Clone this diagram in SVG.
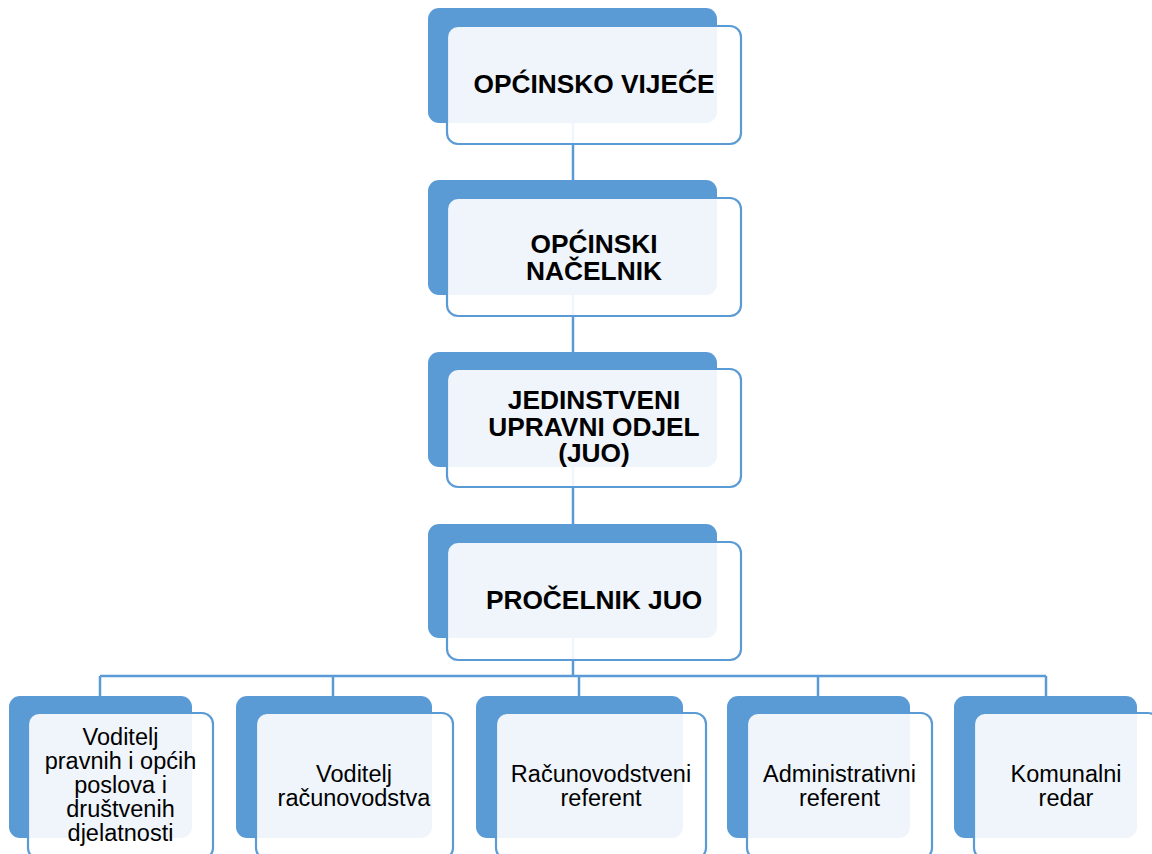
<svg xmlns="http://www.w3.org/2000/svg" width="1152" height="854" viewBox="0 0 1152 854">
<style>
.back{fill:#5B9BD5}
.front{fill:#FFFFFF;fill-opacity:0.9;stroke:#5B9BD5;stroke-width:2.2}
.conn{fill:none;stroke:#5B9BD5;stroke-width:2.5}
.tb{font-family:"Liberation Sans",Arial,sans-serif;font-weight:bold;font-size:26.3px;fill:#000;text-anchor:middle}
.tr{font-family:"Liberation Sans",Arial,sans-serif;font-size:23.5px;fill:#000;text-anchor:middle}
</style>
<rect width="1152" height="854" fill="#FFFFFF"/>
<g id="connectors">
<path class="conn" d="M573 123V180M573 295V352M573 467V524M573 638V676M100 676H1046M100 676V696M333 676V696M579 676V696M818 676V696M1046 676V696"/>
</g>
<g id="node-vijece">
<rect class="back" x="428" y="8" width="289" height="115" rx="11"/>
<rect class="front" x="447" y="26" width="294" height="118" rx="11"/>
<text class="tb" x="594" y="93">OPĆINSKO VIJEĆE</text>
</g>
<g id="node-nacelnik">
<rect class="back" x="428" y="180" width="289" height="115" rx="11"/>
<rect class="front" x="447" y="198" width="294" height="118" rx="11"/>
<text class="tb" x="594" y="253">OPĆINSKI</text>
<text class="tb" x="594" y="280">NAČELNIK</text>
</g>
<g id="node-juo">
<rect class="back" x="428" y="352" width="289" height="115" rx="11"/>
<rect class="front" x="447" y="369" width="294" height="118" rx="11"/>
<text class="tb" x="594" y="409">JEDINSTVENI</text>
<text class="tb" x="594" y="436">UPRAVNI ODJEL</text>
<text class="tb" x="594" y="462">(JUO)</text>
</g>
<g id="node-procelnik">
<rect class="back" x="428" y="524" width="289" height="114" rx="11"/>
<rect class="front" x="447" y="542" width="294" height="118" rx="11"/>
<text class="tb" x="594" y="609">PROČELNIK JUO</text>
</g>
<g id="node-voditelj-pravnih">
<rect class="back" x="9" y="696" width="183" height="142" rx="11"/>
<rect class="front" x="28" y="713" width="185" height="146" rx="11"/>
<text class="tr" x="120.5" y="745">Voditelj</text>
<text class="tr" x="120.5" y="769">pravnih i općih</text>
<text class="tr" x="120.5" y="793">poslova i</text>
<text class="tr" x="120.5" y="817">društvenih</text>
<text class="tr" x="120.5" y="841">djelatnosti</text>
</g>
<g id="node-voditelj-racunovodstva">
<rect class="back" x="236" y="696" width="196" height="142" rx="11"/>
<rect class="front" x="256" y="713" width="197" height="146" rx="11"/>
<text class="tr" x="354" y="782">Voditelj</text>
<text class="tr" x="354" y="806">računovodstva</text>
</g>
<g id="node-racunovodstveni-referent">
<rect class="back" x="476" y="696" width="207" height="142" rx="11"/>
<rect class="front" x="496" y="713" width="210" height="146" rx="11"/>
<text class="tr" x="601" y="782">Računovodstveni</text>
<text class="tr" x="601" y="806">referent</text>
</g>
<g id="node-administrativni-referent">
<rect class="back" x="727" y="696" width="183" height="142" rx="11"/>
<rect class="front" x="747" y="713" width="185" height="146" rx="11"/>
<text class="tr" x="839.5" y="782">Administrativni</text>
<text class="tr" x="839.5" y="806">referent</text>
</g>
<g id="node-komunalni-redar">
<rect class="back" x="954" y="696" width="183" height="142" rx="11"/>
<rect class="front" x="974" y="713" width="185" height="146" rx="11"/>
<text class="tr" x="1066" y="782">Komunalni</text>
<text class="tr" x="1066" y="806">redar</text>
</g>
</svg>
